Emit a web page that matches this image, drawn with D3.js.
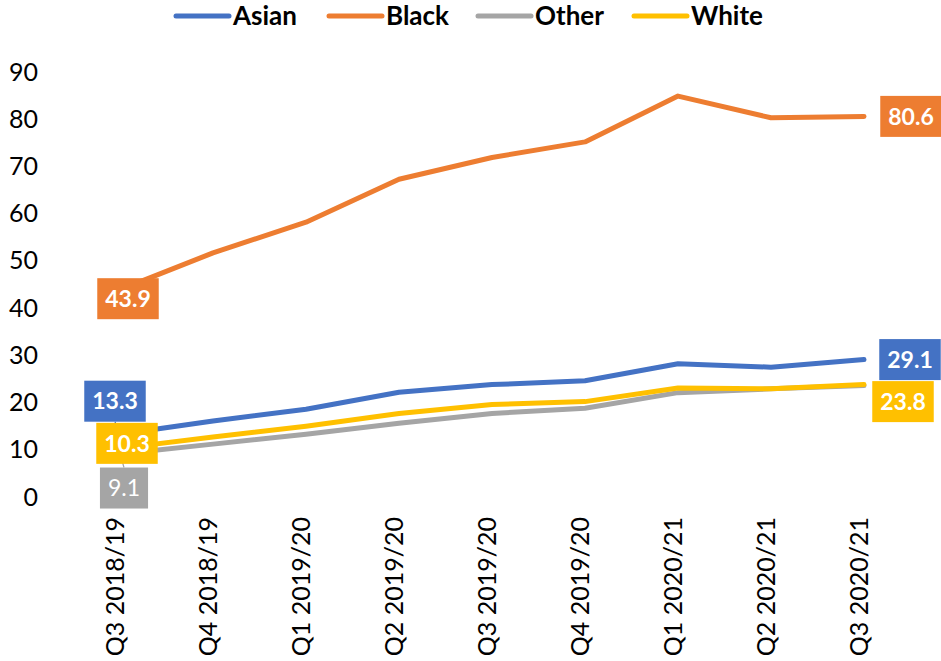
<!DOCTYPE html>
<html>
<head>
<meta charset="utf-8">
<script src="https://cdn.jsdelivr.net/npm/d3@7"></script>
<style>
  html, body { margin: 0; padding: 0; background: #fff; }
  svg { display: block; }
  text { font-family: Lato, "Noto Sans", sans-serif; }
</style>
</head>
<body>
<svg id="chart" width="941" height="661"></svg>
<script>
// Quarterly rates by ethnic group
const categories = ["Q3 2018/19", "Q4 2018/19", "Q1 2019/20", "Q2 2019/20", "Q3 2019/20",
                    "Q4 2019/20", "Q1 2020/21", "Q2 2020/21", "Q3 2020/21"];
const seriesNames = ["Asian", "Black", "Other", "White"];
const asian = [13.3, 16.1, 18.6, 22.2, 23.8, 24.6, 28.2, 27.5, 29.1];
const black = [43.9, 51.7, 58.2, 67.3, 71.9, 75.2, 84.9, 80.3, 80.6];
const other = [9.1, 11.2, 13.3, 15.6, 17.7, 18.8, 22.1, 22.9, 23.6];
const white = [10.3, 12.7, 15.0, 17.7, 19.6, 20.2, 23.1, 22.9, 23.8];
const yTicks = [0, 10, 20, 30, 40, 50, 60, 70, 80, 90];

const colors = { Asian: "#4472C4", Black: "#ED7D31", Other: "#A5A5A5", White: "#FFC000" };
const values = { Asian: asian, Black: black, Other: other, White: white };

// Label box offsets (centre relative to the data point) for first / last values
const labelOffsets = {
  Asian: { first: [-5, -33], last: [46, 0] },
  Black: { first: [8, 9], last: [47, 0] },
  Other: { first: [4, 34], last: null },
  White: { first: [7, -5], last: [39, 17] }
};

const svg = d3.select("#chart");

const x = d3.scalePoint().domain(categories).range([120, 864]);
const y = d3.scaleLinear().domain([0, 90]).range([497, 72]);

// Y axis
const yAxis = svg.append("g")
  .attr("transform", "translate(38,0)")
  .call(d3.axisLeft(y).tickValues(yTicks).tickSize(0).tickPadding(0).tickFormat(d3.format("d")));
yAxis.select(".domain").remove();
yAxis.selectAll("text")
  .attr("font-family", "Lato, sans-serif")
  .attr("font-size", 25)
  .attr("fill", "#000");

// X axis with vertical labels
const xAxis = svg.append("g")
  .attr("transform", "translate(0,517)")
  .call(d3.axisBottom(x).tickSize(0));
xAxis.select(".domain").remove();
xAxis.selectAll("text")
  .attr("font-family", "Lato, sans-serif")
  .attr("font-size", 25)
  .attr("fill", "#000")
  .attr("transform", "rotate(-90)")
  .attr("text-anchor", "end")
  .attr("x", 0)
  .attr("y", 3)
  .attr("dy", 0);

// Lines
const line = d3.line()
  .x((d, i) => x(categories[i]))
  .y(d => y(d));

seriesNames.forEach(name => {
  svg.append("path")
    .datum(values[name])
    .attr("fill", "none")
    .attr("stroke", colors[name])
    .attr("stroke-width", 5)
    .attr("stroke-linecap", "round")
    .attr("stroke-linejoin", "round")
    .attr("d", line);
});

// Value labels on the first and last points
const labelLayer = svg.append("g");
seriesNames.forEach(name => {
  const vals = values[name];
  [["first", 0], ["last", vals.length - 1]].forEach(([key, idx]) => {
    const off = labelOffsets[name][key];
    if (!off) return;
    const px = x(categories[idx]), py = y(vals[idx]);
    const cx = px + off[0], cy = py + off[1];
    const g = labelLayer.append("g");
    const leader = g.append("line")
      .attr("stroke", colors[name])
      .attr("stroke-width", 1.2);
    const rect = g.append("rect").attr("fill", colors[name]);
    const t = g.append("text")
      .attr("x", cx)
      .attr("y", cy)
      .attr("dy", "0.36em")
      .attr("text-anchor", "middle")
      .attr("font-size", 23)
      .attr("font-weight", name === "Other" ? 400 : 700)
      .attr("fill", "#fff")
      .text(d3.format(".1f")(vals[idx]));
    const w = t.node().getComputedTextLength() + 16;
    const h = 41;
    rect.attr("x", cx - w / 2).attr("y", cy - h / 2).attr("width", w).attr("height", h);
    // leader from box edge to the point when the point sits outside the box
    if (Math.abs(py - cy) > h / 2) {
      const ey = py < cy ? cy - h / 2 : cy + h / 2;
      leader.attr("x1", cx).attr("y1", ey).attr("x2", px).attr("y2", py);
    } else {
      leader.remove();
    }
  });
});

// Legend
const legendItems = [
  { name: "Asian", x: 174 },
  { name: "Black", x: 327 },
  { name: "Other", x: 476 },
  { name: "White", x: 632 }
];
const legend = svg.append("g");
legendItems.forEach(item => {
  legend.append("line")
    .attr("x1", item.x + 2).attr("x2", item.x + 55)
    .attr("y1", 16).attr("y2", 16)
    .attr("stroke", colors[item.name])
    .attr("stroke-width", 5)
    .attr("stroke-linecap", "round");
  legend.append("text")
    .attr("x", item.x + 59)
    .attr("y", 16)
    .attr("dy", "0.36em")
    .attr("font-size", 26)
    .attr("font-weight", 700)
    .attr("fill", "#000")
    .text(item.name);
});
</script>
</body>
</html>
